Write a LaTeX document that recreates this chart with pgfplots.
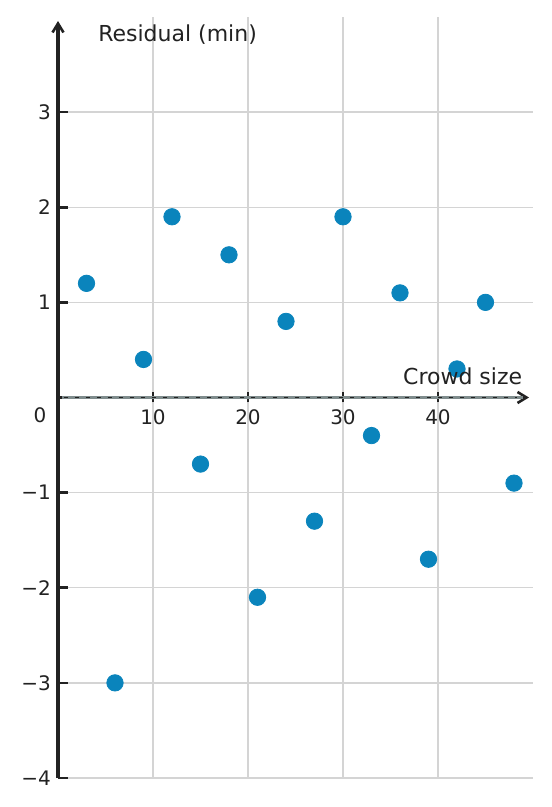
\documentclass[border=0pt]{standalone}
\usepackage{pgfplots}
\pgfplotsset{compat=1.18}
\usetikzlibrary{arrows.meta}
\usepackage{fontspec}
\setmainfont{DejaVu Sans}
\definecolor{dotblue}{HTML}{0A84BC}
\definecolor{gridgray}{HTML}{D4D4D4}
\definecolor{zerogray}{HTML}{7F8C8D}
\definecolor{axisblack}{HTML}{222222}

\begin{document}
\begin{tikzpicture}
\begin{axis}[
    set layers,
    scale only axis,
    width=237.5pt, height=380.5pt,
    axis lines=middle,
    xmin=0, xmax=50, ymin=-4, ymax=4,
    xtick={10,20,30,40},
    ytick={-4,-3,-2,-1,1,2,3},
    yticklabels={−4,−3,−2,−1,1,2,3},
    grid=major,
    grid style={gridgray, line width=0.65pt},
    axis line style={axisblack, line width=1.6pt, shorten >=2pt},
    x axis line style={-{Straight Barb[length=4.5pt, width=5.5pt, line width=1.3pt]}},
    y axis line style={-{Straight Barb[length=4.5pt, width=5.5pt, line width=1.3pt]}},
    tick style={axisblack, line width=1.3pt},
    major tick length=5pt,
    ytick align=inside,
    tick label style={font=\fontsize{10}{12}\selectfont, text=axisblack},
    /pgf/number format/assume math mode=true,
    clip=false,
]
\addplot [zerogray, line width=1.9pt] coordinates {(0.4,0) (48.9,0)};
\addplot [axisblack, line width=0.8pt, dash pattern=on 2pt off 3.5pt, dash phase=-1pt]
    coordinates {(0.4,0) (48.3,0)};
\addplot [only marks, mark=*, mark size=4.1pt, color=dotblue, mark options={draw=dotblue, fill=dotblue}]
    coordinates {
    (3,1.2) (6,-3) (9,0.4) (12,1.9) (15,-0.7) (18,1.5) (21,-2.1) (24,0.8)
    (27,-1.3) (30,1.9) (33,-0.4) (36,1.1) (39,-1.7) (42,0.3) (45,1.0) (48,-0.9)
    };
\begin{pgfonlayer}{axis foreground}
\node [anchor=west, inner sep=0pt, text=axisblack, font=\fontsize{11}{13}\selectfont]
    at (axis cs:4.2,3.82) {Residual (min)};
\node [anchor=east, inner sep=0pt, text=axisblack, font=\fontsize{11}{13}\selectfont]
    at (axis cs:48.9,0.22) {Crowd size};
\node [text=axisblack, font=\fontsize{10}{12}\selectfont]
    at (axis cs:-1.9,-0.19) {0};
\end{pgfonlayer}
\end{axis}
\pgfresetboundingbox
\path (current axis.south west) ++(-29pt,-14.5pt) (current axis.north east) ++(9.5pt,8.5pt);
\end{tikzpicture}
\end{document}
